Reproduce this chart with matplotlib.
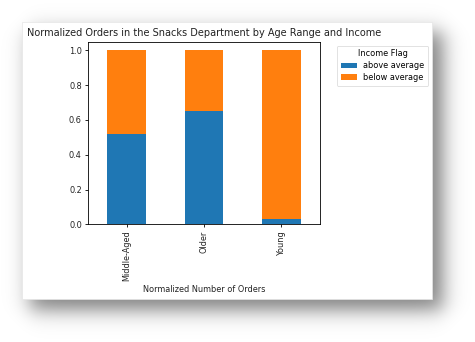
import numpy as np
import matplotlib
matplotlib.use("Agg")
import matplotlib.pyplot as plt
from matplotlib.patches import Rectangle

categories = ["Middle-Aged", "Older", "Young"]
above_average = [0.522, 0.650, 0.030]
below_average = [0.478, 0.350, 0.970]
series_names = ["above average", "below average"]
colors = ["#1f77b4", "#ff7f0e"]

W, H = 475, 342
fig = plt.figure(figsize=(W / 100, H / 100), dpi=100)
fig.patch.set_facecolor("white")

# background shadow + card
bg = fig.add_axes([0, 0, 1, 1], zorder=-10)
bg.set_xlim(0, W)
bg.set_ylim(H, 0)
bg.axis("off")
xx = np.arange(W) + 0.5
yy = np.arange(H) + 0.5
def soft(v, a, b, s):
    return 1 / (1 + np.exp(-(v - a) / s)) * 1 / (1 + np.exp((v - b) / s))
sx = soft(xx, 30, 443, 6)
sy = soft(yy, 32, 310, 6)
alpha = np.outer(sy, sx) * 0.5
img = np.zeros((H, W, 4))
img[..., 3] = alpha
bg.imshow(img, extent=(0, W, H, 0), interpolation="bilinear", aspect="auto")
bg.add_patch(Rectangle((22, 22), 410, 277, facecolor="white", edgecolor="#e6e6e6", lw=0.5))

ax = fig.add_axes([88 / W, 1 - 224.3 / H, (320 - 88) / W, (224.3 - 41.7) / H])
x = np.arange(len(categories))
ax.bar(x, above_average, width=0.5, color=colors[0], label=series_names[0])
ax.bar(x, below_average, width=0.5, bottom=above_average, color=colors[1], label=series_names[1])
ax.set_xticks(x)
ax.set_xticklabels(categories, rotation=90, fontsize=5.9, color="#222222")
ax.set_xlim(-0.5, 2.5)
ax.set_ylim(0, 1.05)
ax.set_yticks([0, 0.2, 0.4, 0.6, 0.8, 1.0])
ax.tick_params(axis="y", labelsize=5.9, length=2.3, width=0.6, pad=2.2, labelcolor="#222222")
ax.tick_params(axis="x", length=2.3, width=0.6, pad=2.2)
for s in ax.spines.values():
    s.set_linewidth(0.6)
ax.set_title("Normalized Orders in the Snacks Department by Age Range and Income",
             fontsize=7.0, pad=4, color="#222222")
ax.set_xlabel("Normalized Number of Orders", fontsize=5.9, labelpad=2.5, color="#222222")
leg = ax.legend(title="Income Flag", bbox_to_anchor=(1.055, 1.0), loc="upper left",
                fontsize=5.9, title_fontsize=5.9, frameon=True, handlelength=2.0,
                labelspacing=0.35, borderpad=0.45)
leg.get_frame().set_linewidth(0.5)

fig.savefig("out.png", dpi=100)
